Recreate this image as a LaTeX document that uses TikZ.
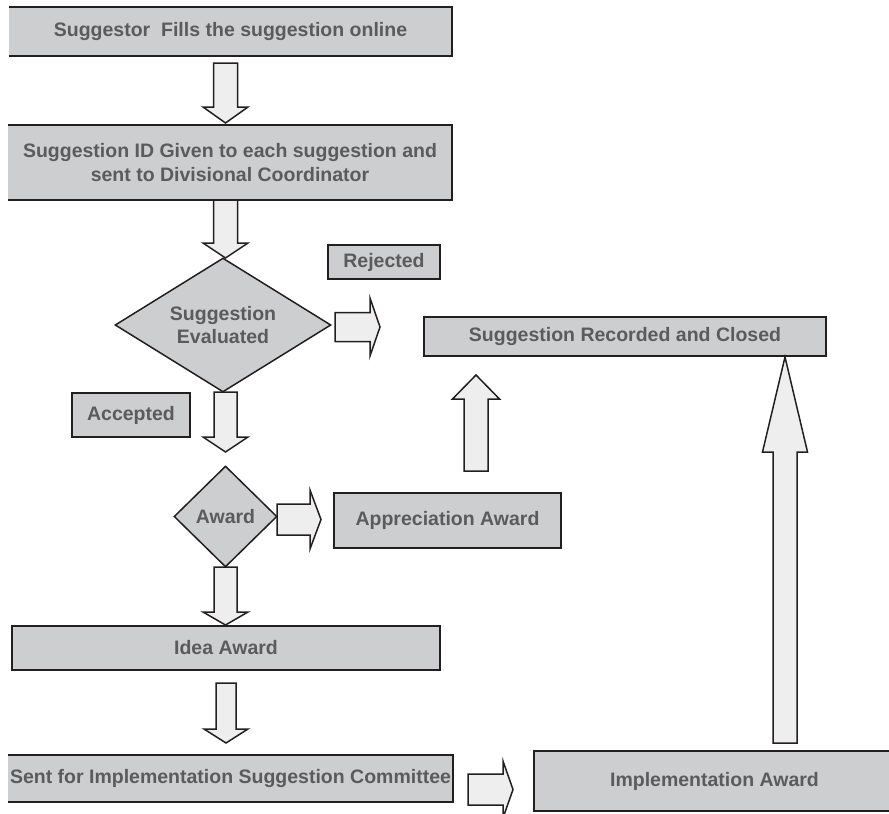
\documentclass[tikz,border=0pt]{standalone}
\usepackage{fontspec}
\setmainfont{Liberation Sans}
\usetikzlibrary{shapes.geometric}
\definecolor{boxgray}{HTML}{CDCED0}
\definecolor{txtgray}{HTML}{5A5B5D}
\definecolor{arrowfill}{HTML}{EEEEEE}
\definecolor{edgecol}{HTML}{231F20}
% vertical block arrow: cx, tail y, head-base y, tip y, shaft half width, head half width
\newcommand{\vblock}[6]{\draw[barrow] (#1-#5,#2) -- (#1+#5,#2) -- (#1+#5,#3) -- (#1+#6,#3) -- (#1,#4) -- (#1-#6,#3) -- (#1-#5,#3) -- cycle;}
% horizontal block arrow: cy, tail x, head-base x, tip x, shaft half width, head half width
\newcommand{\hblock}[6]{\draw[barrow] (#2,#1-#5) -- (#3,#1-#5) -- (#3,#1-#6) -- (#4,#1) -- (#3,#1+#6) -- (#3,#1+#5) -- (#2,#1+#5) -- cycle;}
\begin{document}
\begin{tikzpicture}[x=1pt,y=-1pt,
  txt/.style={text=txtgray, font=\fontsize{19.5}{23.5}\selectfont\bfseries, align=center},
  box/.style={txt, rectangle, fill=boxgray, draw=edgecol, line width=1.5pt, inner sep=0pt},
  openbox/.style={txt, rectangle, fill=boxgray, inner sep=0pt},
  edgeline/.style={draw=edgecol, line width=1.5pt},
  dia/.style={txt, diamond, fill=boxgray, draw=edgecol, line width=1.5pt, inner sep=0pt},
  barrow/.style={fill=arrowfill, draw=edgecol, line width=1.5pt, line join=miter}
]
\useasboundingbox (0,0) rectangle (889,814);
\clip (0,0) rectangle (889,814);

% boxes
\node[openbox, minimum width=443, minimum height=49] (b1) at (230.5,31.5) {Suggestor\ \ Fills the suggestion online};
\draw[edgeline] (b1.north west) -- (b1.north east) -- (b1.south east) -- (b1.south west);

\node[openbox, minimum width=444, minimum height=75] (b2) at (230,162.5) {Suggestion ID Given to each suggestion and\\sent to Divisional Coordinator};
\draw[edgeline] (b2.north west) -- (b2.north east) -- (b2.south east) -- (b2.south west);

\node[dia, minimum width=216, minimum height=134, shape aspect=1.6] (d1) at (223,325) {Suggestion\\Evaluated};

\node[box, minimum width=112, minimum height=34] (rej) at (384,262) {Rejected};
\node[box, minimum width=402, minimum height=39] (rec) at (625,336.5) {Suggestion Recorded and Closed};
\node[box, minimum width=118, minimum height=44] (acc) at (131,415) {Accepted};

\node[dia, minimum width=103, minimum height=101] (d2) at (225.5,516.5) {Award};
\node[box, minimum width=227, minimum height=55] (app) at (447.5,520.5) {Appreciation Award};

\node[box, minimum width=428, minimum height=44] (idea) at (226,648) {Idea Award};

\node[openbox, minimum width=445, minimum height=47] (sent) at (230.5,778.5) {Sent for Implementation Suggestion Committee};
\draw[edgeline] (sent.north west) -- (sent.north east) -- (sent.south east) -- (sent.south west);

\node[box, minimum width=361, minimum height=60] (impl) at (714.5,781) {Implementation Award};

% block arrows
\vblock{225.5}{63}{107}{123}{12}{22.5}
\vblock{225.5}{200}{243}{258}{12}{22.5}
\vblock{225.5}{392}{437}{452}{11.5}{22.5}
\vblock{225.5}{567}{612}{625}{11.5}{22.5}
\vblock{226}{683}{729}{743}{10}{22}
\vblock{476}{471}{399}{375}{12}{23.5}
\vblock{785}{743}{452}{357}{12}{22.5}

\hblock{327}{335}{370}{380}{14.5}{29}
\hblock{519.5}{277}{310}{321}{15.5}{29.5}
\hblock{789.5}{468}{503}{513}{15.5}{28.5}
\end{tikzpicture}
\end{document}
